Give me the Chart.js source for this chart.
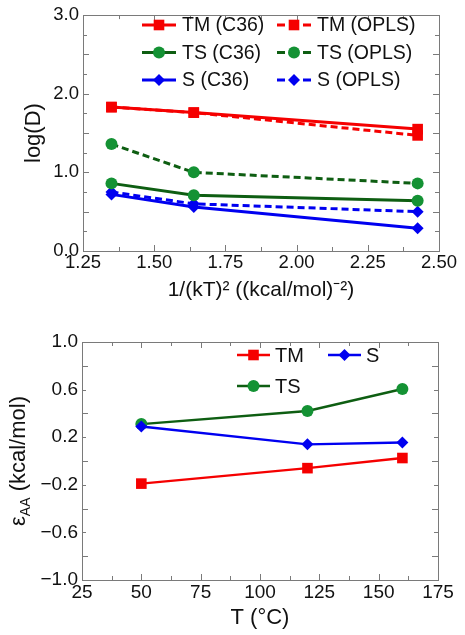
<!DOCTYPE html>
<html lang="en">
<head>
<meta charset="UTF-8">
<title>log(D) and epsilon_AA</title>
<script src="https://cdn.jsdelivr.net/npm/chart.js@4.4.1/dist/chart.umd.min.js"></script>
<style>
    html, body { margin: 0; padding: 0; background: #fff; }
    .wrap { position: relative; width: 465px; }
    #top-box { width: 465px; height: 320px; }
    #bottom-box { width: 465px; height: 315px; }
</style>
</head>
<body>
<div class="wrap">
    <div id="top-box"><canvas id="top-chart"></canvas></div>
    <div id="bottom-box"><canvas id="bottom-chart"></canvas></div>
</div>
<script>
// top panel: log(D) vs 1/(kT)^2  (points are 160, 120 and 50 °C)
const invKT2 = [1.350, 1.639, 2.425];
const tmC36  = [1.83, 1.76, 1.55];
const tmOPLS = [1.83, 1.76, 1.47];
const tsC36  = [0.86, 0.71, 0.64];
const tsOPLS = [1.36, 1.00, 0.86];
const sC36   = [0.72, 0.56, 0.29];
const sOPLS  = [0.75, 0.60, 0.50];

// bottom panel: eps_AA vs T
const tempC = [50, 120, 160];
const epsTM = [-0.19, -0.06, 0.025];
const epsS  = [0.29, 0.14, 0.155];
const epsTS = [0.31, 0.42, 0.605];

const RED = '#f50000';
const GREEN_LINE = '#0e5e12';
const GREEN_PT = '#149234';
const BLUE = '#0000f0';
const FONT = "'Liberation Sans', Arial, sans-serif";

function pts(xs, ys) {
    return xs.map((x, i) => ({ x: x, y: ys[i] }));
}

function series(label, xs, ys, line, fill, style, radius, dashed, width) {
    return {
        label: label,
        data: pts(xs, ys),
        borderColor: line,
        backgroundColor: fill,
        pointBackgroundColor: fill,
        pointBorderColor: fill,
        pointBorderWidth: 0,
        pointStyle: style,
        pointRadius: radius,
        borderWidth: width,
        borderDash: dashed ? [7, 4] : [],
        showLine: true,
        tension: 0
    };
}

function drawMarker(ctx, style, x, y, r, color) {
    ctx.fillStyle = color;
    ctx.beginPath();
    if (style === 'rect') {
        const s = Math.SQRT1_2 * r;
        ctx.rect(x - s, y - s, 2 * s, 2 * s);
    } else if (style === 'rectRot') {
        ctx.moveTo(x - r, y);
        ctx.lineTo(x, y - r);
        ctx.lineTo(x + r, y);
        ctx.lineTo(x, y + r);
        ctx.closePath();
    } else {
        ctx.arc(x, y, r, 0, Math.PI * 2);
    }
    ctx.fill();
}

// box around the plot area with inward ticks on all four sides
const frameTicks = {
    id: 'frameTicks',
    afterDatasetsDraw(chart, args, o) {
        const ctx = chart.ctx;
        const a = chart.chartArea;
        const xs = chart.scales.x, ys = chart.scales.y;
        ctx.save();
        ctx.strokeStyle = '#7a7a7a';
        ctx.lineWidth = 1;
        const eps = 1e-6;
        for (let v = xs.min; v <= xs.max + eps; v += o.xMinor) {
            const px = Math.round(xs.getPixelForValue(v)) + 0.5;
            const major = Math.abs(v / o.xMajor - Math.round(v / o.xMajor)) < 1e-4;
            const len = major ? 6 : 4;
            ctx.beginPath();
            ctx.moveTo(px, a.bottom); ctx.lineTo(px, a.bottom - len);
            ctx.moveTo(px, a.top); ctx.lineTo(px, a.top + len);
            ctx.stroke();
        }
        for (let v = ys.min; v <= ys.max + eps; v += o.yMinor) {
            const py = Math.round(ys.getPixelForValue(v)) + 0.5;
            const major = Math.abs(v / o.yMajor - Math.round(v / o.yMajor)) < 1e-4;
            const len = major ? 6 : 4;
            ctx.beginPath();
            ctx.moveTo(a.left, py); ctx.lineTo(a.left + len, py);
            ctx.moveTo(a.right, py); ctx.lineTo(a.right - len, py);
            ctx.stroke();
        }
        ctx.strokeRect(Math.round(a.left) + 0.5, Math.round(a.top) + 0.5,
                       Math.round(a.right - a.left), Math.round(a.bottom - a.top));
        ctx.restore();
    }
};

// legend laid out in a grid inside the plot, line + marker + label
const gridLegend = {
    id: 'gridLegend',
    afterDraw(chart, args, o) {
        const ctx = chart.ctx;
        ctx.save();
        ctx.font = o.font;
        ctx.textBaseline = 'middle';
        chart.data.datasets.forEach((ds, i) => {
            const col = i % 2, row = Math.floor(i / 2);
            const x0 = o.x[col], y = o.y0 + row * o.dy;
            const x1 = x0 + o.lineLen;
            ctx.strokeStyle = ds.borderColor;
            ctx.lineWidth = ds.borderWidth;
            ctx.setLineDash(ds.borderDash.length ? [8, 5] : []);
            ctx.beginPath();
            ctx.moveTo(x0, y); ctx.lineTo(x1, y);
            ctx.stroke();
            ctx.setLineDash([]);
            drawMarker(ctx, ds.pointStyle, (x0 + x1) / 2, y, ds.pointRadius, ds.pointBackgroundColor);
            ctx.fillStyle = '#111';
            ctx.fillText(ds.label, x1 + o.gap, y + 1);
        });
        ctx.restore();
    }
};

// rotated y title with subscript for the lower panel
const epsTitle = {
    id: 'epsTitle',
    afterDraw(chart, args, o) {
        if (!o.show) return;
        const ctx = chart.ctx;
        const a = chart.chartArea;
        const big = "22px " + FONT, small = "14px " + FONT;
        ctx.save();
        ctx.translate(o.x, (a.top + a.bottom) / 2);
        ctx.rotate(-Math.PI / 2);
        ctx.fillStyle = '#111';
        ctx.textBaseline = 'alphabetic';
        ctx.font = big;
        const w1 = ctx.measureText('\u03b5').width;
        const w3 = ctx.measureText(' (kcal/mol)').width;
        ctx.font = small;
        const w2 = ctx.measureText('AA').width;
        let x = -(w1 + w2 + w3) / 2;
        const base = 8;
        ctx.font = big;
        ctx.fillText('\u03b5', x, base); x += w1;
        ctx.font = small;
        ctx.fillText('AA', x, base + 5); x += w2;
        ctx.font = big;
        ctx.fillText(' (kcal/mol)', x, base);
        ctx.restore();
    }
};

Chart.defaults.font.family = FONT;
Chart.defaults.color = '#111';
Chart.defaults.animation = false;

const noGrid = { display: false, drawTicks: false };

new Chart(document.getElementById('top-chart'), {
    type: 'scatter',
    data: {
        datasets: [
            series('TM (C36)',  invKT2, tmC36,  RED, RED, 'rect', 7.5, false, 3),
            series('TM (OPLS)', invKT2, tmOPLS, RED, RED, 'rect', 7.5, true, 3),
            series('TS (C36)',  invKT2, tsC36,  GREEN_LINE, GREEN_PT, 'circle', 6, false, 3),
            series('TS (OPLS)', invKT2, tsOPLS, GREEN_LINE, GREEN_PT, 'circle', 6, true, 3),
            series('S (C36)',   invKT2, sC36,   BLUE, BLUE, 'rectRot', 6, false, 3),
            series('S (OPLS)',  invKT2, sOPLS,  BLUE, BLUE, 'rectRot', 6, true, 3)
        ]
    },
    options: {
        responsive: true,
        maintainAspectRatio: false,
        layout: { padding: { top: 13, right: 26, left: 0, bottom: 0 } },
        plugins: {
            legend: { display: false },
            tooltip: { enabled: false },
            frameTicks: { xMinor: 0.125, xMajor: 0.25, yMinor: 0.25, yMajor: 0.5 },
            gridLegend: { x: [142, 277], lineLen: 34, y0: 25, dy: 27.5, gap: 6, font: '19.5px ' + FONT },
            epsTitle: { show: false }
        },
        scales: {
            x: {
                type: 'linear', min: 1.25, max: 2.5,
                grid: noGrid, border: { display: false },
                ticks: { stepSize: 0.25, padding: 1, font: { size: 18.5 }, callback: v => v.toFixed(2) },
                title: { display: true, text: '1/(kT)\u00b2 ((kcal/mol)\u207b\u00b2)', font: { size: 21 }, padding: { top: 0, bottom: 17 } },
                afterFit(s) { s.height = 69; }
            },
            y: {
                min: 0, max: 3,
                grid: noGrid, border: { display: false },
                ticks: { stepSize: 1, padding: 4, font: { size: 18.5 }, callback: v => v.toFixed(1) },
                title: { display: true, text: 'log(D)', font: { size: 22 }, padding: { top: 21, bottom: 0 } },
                afterFit(s) { s.width = 83; }
            }
        }
    },
    plugins: [frameTicks, gridLegend, epsTitle]
});

new Chart(document.getElementById('bottom-chart'), {
    type: 'scatter',
    data: {
        datasets: [
            series('TM', tempC, epsTM, RED, RED, 'rect', 7.5, false, 2.4),
            series('S',  tempC, epsS,  BLUE, BLUE, 'rectRot', 6, false, 2.4),
            series('TS', tempC, epsTS, GREEN_LINE, GREEN_PT, 'circle', 6, false, 2.4)
        ]
    },
    options: {
        responsive: true,
        maintainAspectRatio: false,
        layout: { padding: { top: 22, right: 27, left: 0, bottom: 0 } },
        plugins: {
            legend: { display: false },
            tooltip: { enabled: false },
            frameTicks: { xMinor: 12.5, xMajor: 25, yMinor: 0.2, yMajor: 0.4 },
            gridLegend: { x: [237, 328], lineLen: 33, y0: 35, dy: 31, gap: 5, font: '20px ' + FONT },
            epsTitle: { show: true, x: 17 }
        },
        scales: {
            x: {
                type: 'linear', min: 25, max: 175,
                grid: noGrid, border: { display: false },
                ticks: { stepSize: 25, padding: 1, font: { size: 19 } },
                title: { display: true, text: 'T (\u00b0C)', font: { size: 22 }, padding: { top: 0, bottom: 4 } },
                afterFit(s) { s.height = 55; }
            },
            y: {
                min: -1, max: 1,
                grid: noGrid, border: { display: false },
                ticks: { stepSize: 0.4, padding: 4, font: { size: 19 },
                         callback: v => (v < -1e-6 ? '\u2212' : '') + Math.abs(v).toFixed(1) },
                afterFit(s) { s.width = 82; }
            }
        }
    },
    plugins: [frameTicks, gridLegend, epsTitle]
});
</script>
</body>
</html>
